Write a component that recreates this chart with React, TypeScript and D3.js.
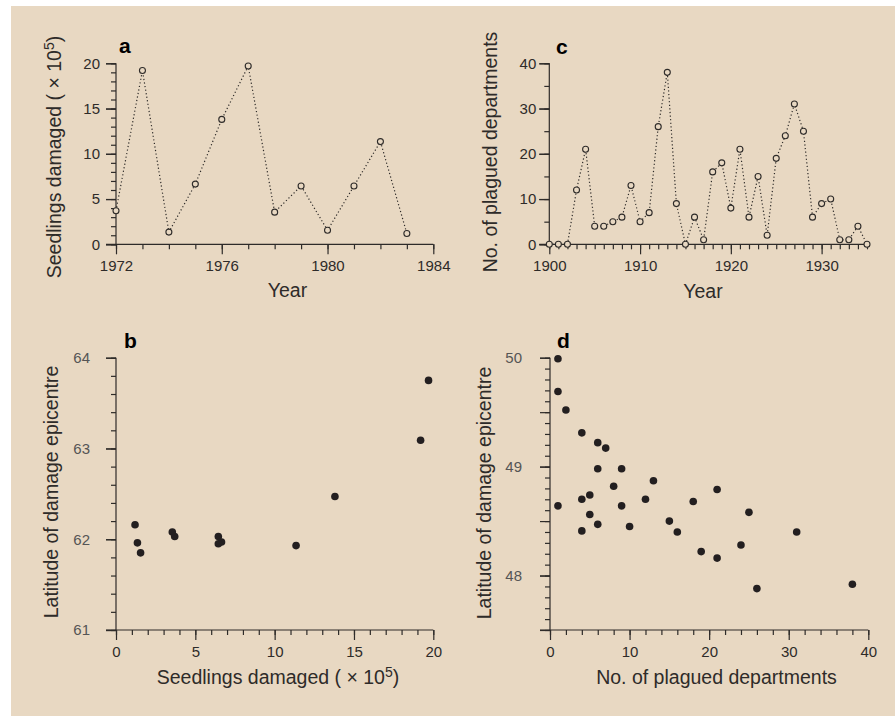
import React, { useEffect, useRef } from 'react';
import * as d3 from 'd3';

// panel a: seedlings damaged per year (x10^5)
const yearsA = [1972, 1973, 1974, 1975, 1976, 1977, 1978, 1979, 1980, 1981, 1982, 1983];
const seedlingsA = [3.7, 19.2, 1.35, 6.65, 13.8, 19.7, 3.55, 6.45, 1.55, 6.45, 11.35, 1.2];
// panel b: latitude of epicentre for each of those years
const latitudeB = [62.03, 63.09, 61.96, 61.97, 62.47, 63.75, 62.08, 62.03, 61.85, 61.95, 61.93, 62.16];

// panel c: plagued departments per year
const yearsC = d3.range(1900, 1936);
const plaguedC = [0, 0, 0, 12, 21, 4, 4, 5, 6, 13, 5, 7, 26, 38, 9, 0, 6, 1, 16, 18, 8, 21, 6, 15, 2, 19, 24, 31, 25, 6, 9, 10, 1, 1, 4, 0];

// panel d: departments vs latitude
const plaguedD = [1, 1, 2, 4, 6, 7, 6, 9, 8, 13, 5, 4, 1, 9, 12, 18, 21, 5, 4, 6, 10, 15, 16, 25, 19, 24, 21, 31, 26, 38];
const latitudeD = [49.99, 49.69, 49.52, 49.31, 49.22, 49.17, 48.98, 48.98, 48.82, 48.87, 48.74, 48.7, 48.64, 48.64, 48.7, 48.68, 48.79, 48.56, 48.41, 48.47, 48.45, 48.5, 48.4, 48.58, 48.22, 48.28, 48.16, 48.4, 47.88, 47.92];

const BG = '#e8d8c2';
const INK = '#2e2b29';
const FONT = '"Liberation Sans", Arial, Helvetica, sans-serif';

function axes(g, x, y, o) {
  const [x0, x1] = x.range();
  const [y0, y1] = y.range();
  // domain lines
  g.append('line').attr('x1', x0 - 10).attr('x2', x1).attr('y1', y0).attr('y2', y0)
    .attr('stroke', INK).attr('stroke-width', 1.2);
  g.append('line').attr('x1', x0).attr('x2', x0).attr('y1', y0).attr('y2', y1)
    .attr('stroke', INK).attr('stroke-width', 1.2);

  const style = (sel, color) => {
    sel.select('.domain').remove();
    sel.selectAll('line').attr('stroke', INK).attr('stroke-width', 1.2);
    sel.selectAll('text').attr('font-family', FONT).attr('font-size', 15).attr('fill', color);
  };

  g.append('g').attr('transform', `translate(0,${y0})`)
    .call(d3.axisBottom(x).tickValues(o.xMinor).tickSize(5).tickFormat(() => ''))
    .call(s => style(s, INK));
  g.append('g').attr('transform', `translate(0,${y0})`)
    .call(d3.axisBottom(x).tickValues(o.xMajor).tickSize(10).tickPadding(6.5).tickFormat(d3.format('d')))
    .call(s => style(s, INK));
  g.append('g').attr('transform', `translate(${x0},0)`)
    .call(d3.axisLeft(y).tickValues(o.yMinor).tickSize(5).tickFormat(() => ''))
    .call(s => style(s, INK));
  g.append('g').attr('transform', `translate(${x0},0)`)
    .call(d3.axisLeft(y).tickValues(o.yLong || o.yMajor).tickSize(10).tickFormat(() => ''))
    .call(s => style(s, INK));
  g.append('g').attr('transform', `translate(${x0},0)`)
    .call(d3.axisLeft(y).tickValues(o.yMajor).tickSize(10).tickPadding(o.yPad).tickFormat(d3.format('d')))
    .call(s => style(s, o.yColor || INK));
}

function label(g, txt, x, y) {
  g.append('text').attr('x', x).attr('y', y).attr('font-family', FONT)
    .attr('font-weight', 900).attr('font-size', 21).attr('fill', '#000').text(txt);
}

function title(g, x, y, rotate, parts) {
  const t = g.append('text')
    .attr('transform', `translate(${x},${y})${rotate ? ' rotate(-90)' : ''}`)
    .attr('text-anchor', 'middle').attr('font-family', FONT).attr('font-size', 19.5).attr('fill', INK);
  if (parts) {
    t.append('tspan').text(parts[0]);
    t.append('tspan').attr('dy', -7).attr('font-size', 14).text('5');
    t.append('tspan').attr('dy', 7).text(')');
  }
  return t;
}

function Figure() {
  const svgRef = useRef();

  useEffect(() => {
    const svg = d3.select(svgRef.current);
    svg.selectAll('*').remove();
    svg.append('rect').attr('width', 895).attr('height', 716).attr('fill', '#fff');
    svg.append('rect').attr('x', 11).attr('y', 6).attr('width', 884).attr('height', 710).attr('fill', BG);

    // ---- a ----
    const ga = svg.append('g');
    const xa = d3.scaleLinear().domain([1972, 1984]).range([116, 433.3]);
    const ya = d3.scaleLinear().domain([0, 20]).range([244.3, 63.3]);
    axes(ga, xa, ya, {
      xMajor: [1972, 1976, 1980, 1984], xMinor: d3.range(1972, 1985),
      yMajor: [0, 5, 10, 15, 20], yMinor: d3.range(0, 21), yPad: 6
    });
    ga.append('path').datum(yearsA.map((d, i) => [d, seedlingsA[i]]))
      .attr('d', d3.line().x(d => xa(d[0])).y(d => ya(d[1])))
      .attr('fill', 'none').attr('stroke', INK).attr('stroke-width', 1.2).attr('stroke-dasharray', '1.2,2.4');
    ga.selectAll('circle').data(yearsA).enter().append('circle')
      .attr('cx', d => xa(d)).attr('cy', (d, i) => ya(seedlingsA[i])).attr('r', 3)
      .attr('fill', BG).attr('stroke', INK).attr('stroke-width', 1.1);
    label(ga, 'a', 119, 53);
    title(ga, 287.5, 297, false).text('Year');
    title(ga, 61, 157, true, ['Seedlings damaged ( × 10']);

    // ---- c ----
    const gc = svg.append('g');
    const xc = d3.scaleLinear().domain([1900, 1935]).range([549.3, 867]);
    const yc = d3.scaleLinear().domain([0, 40]).range([244.3, 63.3]);
    axes(gc, xc, yc, {
      xMajor: [1900, 1910, 1920, 1930], xMinor: d3.range(1900, 1936),
      yMajor: [0, 10, 20, 30, 40], yMinor: d3.range(0, 41, 5), yPad: 3
    });
    gc.append('path').datum(yearsC.map((d, i) => [d, plaguedC[i]]))
      .attr('d', d3.line().x(d => xc(d[0])).y(d => yc(d[1])))
      .attr('fill', 'none').attr('stroke', INK).attr('stroke-width', 1.2).attr('stroke-dasharray', '1.2,2.4');
    gc.selectAll('circle').data(yearsC).enter().append('circle')
      .attr('cx', d => xc(d)).attr('cy', (d, i) => yc(plaguedC[i])).attr('r', 3)
      .attr('fill', BG).attr('stroke', INK).attr('stroke-width', 1.1);
    label(gc, 'c', 556, 54);
    title(gc, 703, 298, false).text('Year');
    title(gc, 497, 152, true).text('No. of plagued departments');

    // ---- b ----
    const gb = svg.append('g');
    const xb = d3.scaleLinear().domain([0, 20]).range([116, 433.3]);
    const yb = d3.scaleLinear().domain([61, 64]).range([630, 357.7]);
    axes(gb, xb, yb, {
      xMajor: [0, 5, 10, 15, 20], xMinor: d3.range(0, 21),
      yMajor: [61, 62, 63, 64], yMinor: d3.range(0, 16).map(i => 61 + i * 0.2), yPad: 16, yColor: '#555'
    });
    gb.selectAll('circle').data(seedlingsA).enter().append('circle')
      .attr('cx', d => xb(d)).attr('cy', (d, i) => yb(latitudeB[i])).attr('r', 3.8)
      .attr('fill', '#231f20');
    label(gb, 'b', 124, 348);
    title(gb, 278, 684, false, ['Seedlings damaged ( × 10']);
    title(gb, 58, 492, true).text('Latitude of damage epicentre');

    // ---- d ----
    const gd = svg.append('g');
    const xd = d3.scaleLinear().domain([0, 40]).range([550, 868.3]);
    const yd = d3.scaleLinear().domain([47.5, 50]).range([630, 357.7]);
    axes(gd, xd, yd, {
      xMajor: [0, 10, 20, 30, 40], xMinor: d3.range(0, 41, 2),
      yMajor: [48, 49, 50], yLong: [47.5, 48, 48.5, 49, 49.5, 50],
      yMinor: d3.range(0, 26).map(i => 47.5 + i * 0.1), yPad: 18, yColor: '#555'
    });
    gd.selectAll('circle').data(plaguedD).enter().append('circle')
      .attr('cx', d => xd(d)).attr('cy', (d, i) => yd(latitudeD[i])).attr('r', 3.8)
      .attr('fill', '#231f20');
    label(gd, 'd', 557, 348);
    title(gd, 716.5, 684, false).text('No. of plagued departments');
    title(gd, 491, 493, true).text('Latitude of damage epicentre');
  }, []);

  return (
    <svg ref={svgRef} width={895} height={716} style={{ position: 'absolute', left: 0, top: 0 }}></svg>
  );
}

export default function App() {
  return <Figure />;
}
